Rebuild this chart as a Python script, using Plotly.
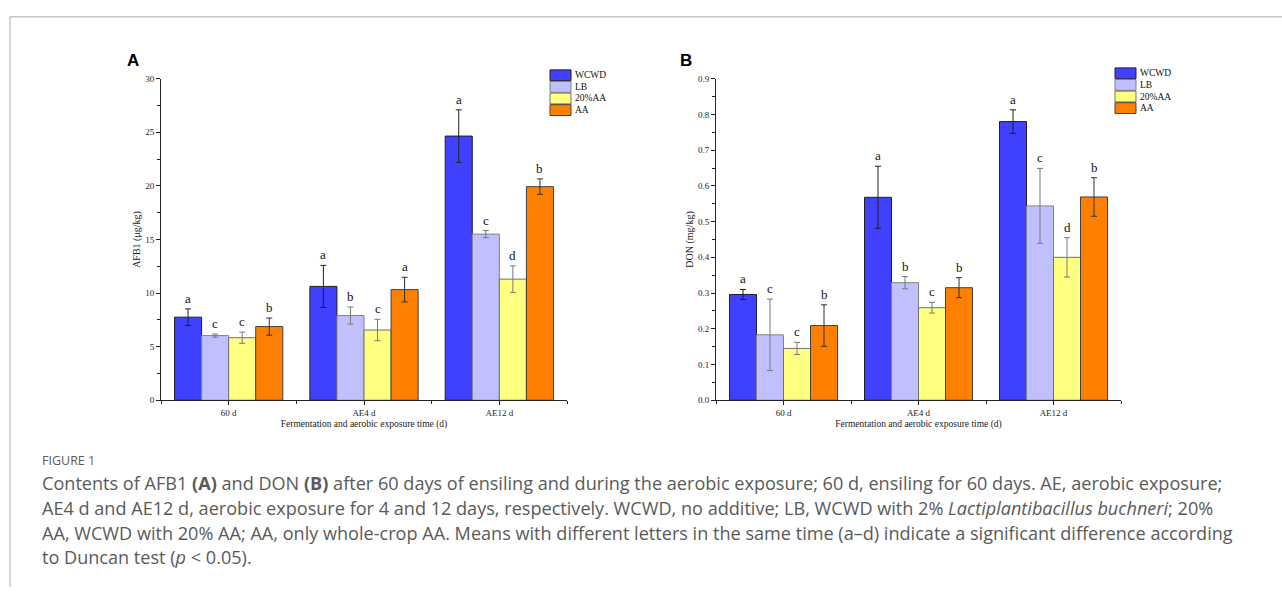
import plotly.graph_objects as go

W, H = 1282, 592

categories = ["60 d", "AE4 d", "AE12 d"]
groups = ["WCWD", "LB", "20%AA", "AA"]
colors = ["#4040FF", "#C0C0FF", "#FFFF80", "#FF8000"]
edge_colors = ["#202020", "#808080", "#707070", "#404040"]
err_colors = ["#202020", "#7a7a7a", "#7a7a7a", "#303030"]

# Panel A: AFB1 (μg/kg)
afb1_wcwd = [7.75, 10.62, 24.65]
afb1_lb = [6.03, 7.90, 15.50]
afb1_20aa = [5.83, 6.55, 11.30]
afb1_aa = [6.87, 10.32, 19.93]
afb1_err_wcwd = [0.77, 1.96, 2.45]
afb1_err_lb = [0.15, 0.80, 0.33]
afb1_err_20aa = [0.52, 1.00, 1.24]
afb1_err_aa = [0.80, 1.15, 0.72]
afb1_letters_wcwd = ["a", "a", "a"]
afb1_letters_lb = ["c", "b", "c"]
afb1_letters_20aa = ["c", "c", "d"]
afb1_letters_aa = ["b", "a", "b"]

# Panel B: DON (mg/kg)
don_wcwd = [0.296, 0.568, 0.780]
don_lb = [0.183, 0.329, 0.544]
don_20aa = [0.145, 0.259, 0.400]
don_aa = [0.209, 0.315, 0.569]
don_err_wcwd = [0.014, 0.087, 0.033]
don_err_lb = [0.100, 0.017, 0.105]
don_err_20aa = [0.017, 0.015, 0.055]
don_err_aa = [0.058, 0.028, 0.054]
don_letters_wcwd = ["a", "a", "a"]
don_letters_lb = ["c", "b", "c"]
don_letters_20aa = ["c", "c", "d"]
don_letters_aa = ["b", "b", "b"]

caption_title = "FIGURE 1"
caption_lines = [
    "Contents of AFB1 <b>(A)</b> and DON <b>(B)</b> after 60 days of ensiling and during the aerobic exposure; 60 d, ensiling for 60 days. AE, aerobic exposure;",
    "AE4 d and AE12 d, aerobic exposure for 4 and 12 days, respectively. WCWD, no additive; LB, WCWD with 2% <i>Lactiplantibacillus buchneri</i>; 20%",
    "AA, WCWD with 20% AA; AA, only whole-crop AA. Means with different letters in the same time (a\u2013d) indicate a significant difference according",
    "to Duncan test (<i>p</i> < 0.05).",
]

panels = [
    dict(vals=[afb1_wcwd, afb1_lb, afb1_20aa, afb1_aa],
         errs=[afb1_err_wcwd, afb1_err_lb, afb1_err_20aa, afb1_err_aa],
         letters=[afb1_letters_wcwd, afb1_letters_lb, afb1_letters_20aa, afb1_letters_aa],
         ytitle="AFB1 (\u03bcg/kg)", yrange=[0, 30], dtick=5, fmt="d",
         xdom=[161, 567], label="A", label_x=133, leg_x=550, leg_y=66),
    dict(vals=[don_wcwd, don_lb, don_20aa, don_aa],
         errs=[don_err_wcwd, don_err_lb, don_err_20aa, don_err_aa],
         letters=[don_letters_wcwd, don_letters_lb, don_letters_20aa, don_letters_aa],
         ytitle="DON (mg/kg)", yrange=[0, 0.9], dtick=0.1, fmt=".1f",
         xdom=[716, 1121], label="B", label_x=686, leg_x=1115, leg_y=64),
]

y_top_px, y_bot_px = 75, 402
serif = "Liberation Serif, Times New Roman, serif"

fig = go.Figure()
annotations = []
shapes = []
xpos = list(range(len(categories)))
offsets = [-0.3, -0.1, 0.1, 0.3]

for p_i, p in enumerate(panels):
    sfx = "" if p_i == 0 else "2"
    for g_i, g in enumerate(groups):
        fig.add_trace(go.Bar(
            x=xpos, y=p["vals"][g_i], name=g,
            xaxis="x" + sfx, yaxis="y" + sfx,
            marker=dict(color=colors[g_i], line=dict(color=edge_colors[g_i], width=1)),
            error_y=dict(type="data", array=p["errs"][g_i], visible=True,
                         color=err_colors[g_i], thickness=1, width=3),
            showlegend=False,
        ))
        for c_i in xpos:
            top = p["vals"][g_i][c_i] + p["errs"][g_i][c_i]
            annotations.append(dict(
                x=c_i + offsets[g_i], y=top, xref="x" + sfx, yref="y" + sfx,
                text=p["letters"][g_i][c_i], showarrow=False, yanchor="bottom",
                yshift=1, font=dict(family=serif, size=13, color="#111")))
    xd = [p["xdom"][0] / W, p["xdom"][1] / W]
    yd = [1 - y_bot_px / H, 1 - y_top_px / H]
    common_y = dict(domain=yd, range=p["yrange"], dtick=p["dtick"], tick0=0,
                    tickformat=p["fmt"], showgrid=False, zeroline=False,
                    showline=True, linecolor="#222", linewidth=1,
                    ticks="outside", ticklen=4, tickcolor="#222", tickwidth=1,
                    minor=dict(ticks="outside", ticklen=3, dtick=p["dtick"] / 2,
                               tickcolor="#222", showgrid=False),
                    tickfont=dict(family=serif, size=9, color="#222"),
                    title=dict(text=p["ytitle"], font=dict(family=serif, size=10, color="#222"),
                               standoff=2),
                    anchor="x" + sfx)
    common_x = dict(domain=xd, range=[-0.5, 2.5], tickvals=xpos, ticktext=categories,
                    showgrid=False, zeroline=False, showline=True, linecolor="#222",
                    linewidth=1, ticks="outside", ticklen=4, tickcolor="#222",
                    minor=dict(ticks="outside", ticklen=3, tick0=0.5, dtick=1,
                               tickcolor="#222", showgrid=False),
                    tickfont=dict(family=serif, size=9, color="#222"),
                    title=dict(text="Fermentation and aerobic exposure time (d)",
                               font=dict(family=serif, size=9.5, color="#222"), standoff=3),
                    anchor="y" + sfx)
    if p_i == 0:
        fig.update_layout(xaxis=common_x, yaxis=common_y)
    else:
        fig.update_layout(xaxis2=common_x, yaxis2=common_y)

    # panel label
    annotations.append(dict(x=p["label_x"] / W, y=1 - 56 / H, xref="paper", yref="paper",
                            text="<b>%s</b>" % p["label"], showarrow=False,
                            xanchor="center", yanchor="middle",
                            font=dict(family="Liberation Sans, Arial, sans-serif", size=17, color="#000")))
    # legend (manual swatches)
    box_w, box_h = 21, 11
    for g_i, g in enumerate(groups):
        y0 = p["leg_y"] + g_i * (box_h + 0.8)
        shapes.append(dict(type="rect", xref="paper", yref="paper",
                           x0=p["leg_x"] / W, x1=(p["leg_x"] + box_w) / W,
                           y0=1 - (y0 + box_h) / H, y1=1 - y0 / H,
                           fillcolor=colors[g_i], line=dict(color=edge_colors[g_i], width=1)))
        annotations.append(dict(x=(p["leg_x"] + box_w + 2) / W, y=1 - (y0 + box_h / 2) / H,
                                xref="paper", yref="paper", text=g, showarrow=False,
                                xanchor="left", yanchor="middle",
                                font=dict(family=serif, size=9.5, color="#111")))

# frame
shapes.append(dict(type="line", xref="paper", yref="paper", x0=10 / W, x1=1, y0=1 - 12 / H, y1=1 - 12 / H,
                   line=dict(color="#c8c8c8", width=1.5)))
shapes.append(dict(type="line", xref="paper", yref="paper", x0=10 / W, x1=10 / W, y0=0, y1=1 - 12 / H,
                   line=dict(color="#c8c8c8", width=1.5)))

# caption
cap_font = "Open Sans, Noto Sans, sans-serif"
annotations.append(dict(x=40 / W, y=1 - 463 / H, xref="paper", yref="paper", text=caption_title,
                        showarrow=False, xanchor="left", yanchor="middle",
                        font=dict(family=cap_font, size=12.5, color="#5a5a5a")))
for i, line in enumerate(caption_lines):
    annotations.append(dict(x=40 / W, y=1 - (486 + 25.3 * i) / H, xref="paper", yref="paper",
                            text=line, showarrow=False, xanchor="left", yanchor="middle",
                            font=dict(family=cap_font, size=18.1, color="#5a5a5a")))

fig.update_layout(
    width=W, height=H, margin=dict(l=0, r=0, t=0, b=0),
    paper_bgcolor="white", plot_bgcolor="white",
    barmode="group", bargap=0.2, bargroupgap=0,
    showlegend=False, annotations=annotations, shapes=shapes,
)

fig.write_html("out.html", config={"displayModeBar": False},
               post_script="document.body.style.margin='0px';")
